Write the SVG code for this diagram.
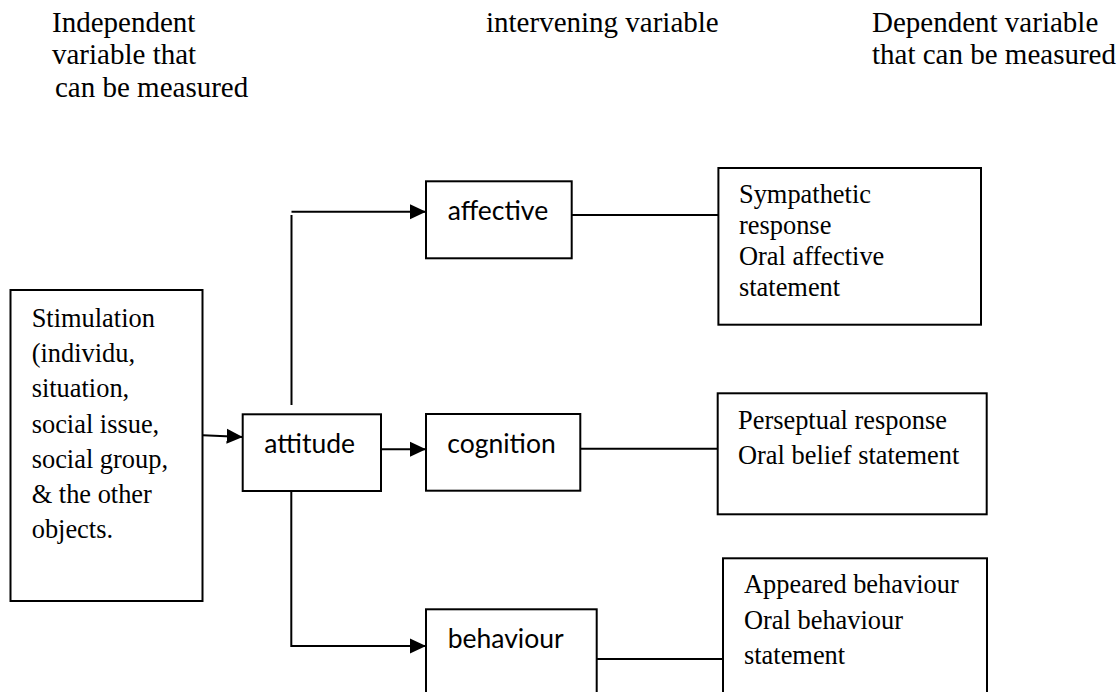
<svg xmlns="http://www.w3.org/2000/svg" width="1118" height="692" viewBox="0 0 1118 692">
<style>
.box{fill:#fff;stroke:#000;stroke-width:2}
.ser{font-family:"Liberation Serif","Times New Roman",serif;fill:#000}
.hdr{font-size:29px}
.bt{font-size:26.4px}
.sans{font-family:Lato,"Open Sans","Liberation Sans",sans-serif;font-size:26.5px;fill:#000}
.ln{fill:none;stroke:#000;stroke-width:2}
</style>
<defs>
<marker id="ah" markerWidth="16" markerHeight="16" viewBox="0 0 16 16" refX="16" refY="8" orient="auto" markerUnits="userSpaceOnUse">
<path d="M0,0.5 L16,8 L0,15.5 Z" fill="#000"/>
</marker>
</defs>
<rect width="1118" height="692" fill="#fff"/>
<g id="headers" class="ser hdr">
<text x="52" y="31.5">Independent</text>
<text x="52" y="64">variable that</text>
<text x="55" y="96.5">can be measured</text>
<text x="486" y="31.5">intervening variable</text>
<text x="872" y="31.5">Dependent variable</text>
<text x="872" y="64">that can be measured</text>
</g>
<g id="connectors">
<line class="ln" x1="203" y1="435.3" x2="242.7" y2="437" marker-end="url(#ah)"/>
<line class="ln" x1="291.5" y1="405" x2="291.5" y2="215"/>
<line class="ln" x1="291.5" y1="211.7" x2="426" y2="211.7" marker-end="url(#ah)"/>
<line class="ln" x1="358.3" y1="449.3" x2="426" y2="449.3" marker-end="url(#ah)"/>
<polyline class="ln" points="291.3,491 291.3,646 426,646" marker-end="url(#ah)"/>
<line class="ln" x1="571.7" y1="215" x2="718.4" y2="215"/>
<line class="ln" x1="580" y1="448.7" x2="717.7" y2="448.7"/>
<line class="ln" x1="596.7" y1="659" x2="723" y2="659"/>
</g>
<g id="stimulation">
<rect class="box" x="10.5" y="290" width="192" height="311"/>
<g class="ser bt">
<text x="31.7" y="327">Stimulation</text>
<text x="31.7" y="362.2">(individu,</text>
<text x="31.7" y="397.4">situation,</text>
<text x="31.7" y="432.6">social issue,</text>
<text x="31.7" y="467.8">social group,</text>
<text x="31.7" y="503">&amp; the other</text>
<text x="31.7" y="538.2">objects.</text>
</g>
</g>
<g id="attitude">
<rect class="box" x="242.7" y="414.3" width="138.3" height="76.7"/>
<text class="sans" x="264.3" y="453.3">attitude</text>
</g>
<g id="affective">
<rect class="box" x="426" y="181.3" width="145.7" height="77"/>
<text class="sans" x="447.7" y="220">affective</text>
</g>
<g id="cognition">
<rect class="box" x="426" y="414" width="154.3" height="76.7"/>
<text class="sans" x="447.3" y="452.7">cognition</text>
</g>
<g id="behaviour">
<rect class="box" x="426" y="609.3" width="170.7" height="100"/>
<text class="sans" x="447.7" y="648.3">behaviour</text>
</g>
<g id="affective-measures">
<rect class="box" x="718.4" y="168" width="262.6" height="156.7"/>
<g class="ser bt">
<text x="739" y="203">Sympathetic</text>
<text x="739" y="234">response</text>
<text x="739" y="265">Oral affective</text>
<text x="739" y="296">statement</text>
</g>
</g>
<g id="cognition-measures">
<rect class="box" x="717.7" y="393.3" width="269" height="121"/>
<g class="ser bt">
<text x="738" y="429.3">Perseptual response</text>
<text x="738" y="464">Oral belief statement</text>
</g>
</g>
<g id="behaviour-measures">
<rect class="box" x="723" y="558.3" width="264" height="150"/>
<g class="ser bt">
<text x="744" y="593.3">Appeared behaviour</text>
<text x="744" y="629">Oral behaviour</text>
<text x="744" y="664.3">statement</text>
</g>
</g>
</svg>
